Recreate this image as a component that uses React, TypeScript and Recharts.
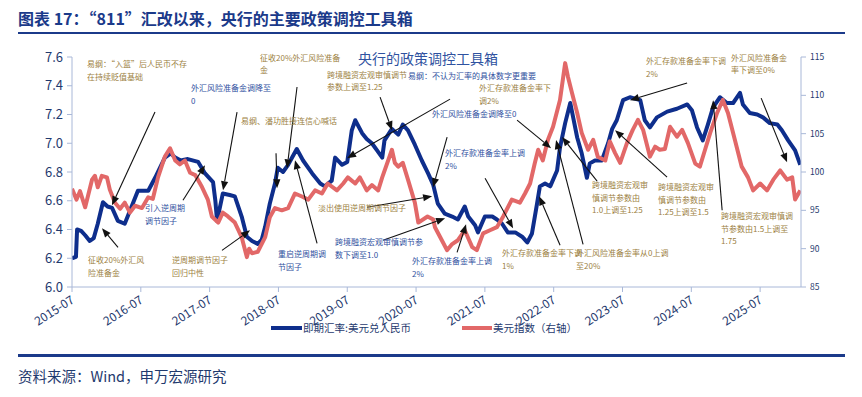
import React from "react";
import { LineChart, Line, XAxis, YAxis, ReferenceLine, ReferenceDot } from "recharts";

const FONT = "'Noto Sans CJK SC', 'Noto Sans', sans-serif";
const NAVY = "#1B3A8A";
const BLUE_LINE = "#0E2E8C";
const RED_LINE = "#E26868";
const BROWN_TXT = "#9C7F3F";
const BLUE_TXT = "#3050A0";
const AXIS_TXT = "#1F3A6E";
const AXIS_LINE = "#A9B8D8";

const tickLabels = ["2015-07", "2016-07", "2017-07", "2018-07", "2019-07", "2020-07", "2021-07", "2022-07", "2023-07", "2024-07", "2025-07"];
const leftTicks = [6.0, 6.2, 6.4, 6.6, 6.8, 7.0, 7.2, 7.4, 7.6];
const rightTicks = [85, 90, 95, 100, 105, 110, 115];

const cnyDates = [
  "2015-07-01", "2015-07-22", "2015-07-28", "2015-08-19", "2015-09-10", "2015-10-04", "2015-10-25", "2015-11-16", "2015-12-13",
  "2016-01-07", "2016-02-01", "2016-03-01", "2016-04-07", "2016-05-10", "2016-06-16", "2016-08-10", "2016-09-16", "2016-11-07", "2016-12-07",
  "2017-01-01", "2017-02-01", "2017-03-07", "2017-05-01", "2017-06-07", "2017-07-19", "2017-08-01", "2017-08-10", "2017-09-10", "2017-10-16", "2017-11-13", "2017-12-19",
  "2018-01-16", "2018-02-13", "2018-03-13", "2018-04-04", "2018-04-22", "2018-05-16", "2018-06-13", "2018-06-28", "2018-07-25", "2018-08-22", "2018-10-07", "2018-11-10", "2018-12-28",
  "2019-02-10", "2019-03-04", "2019-04-10", "2019-04-28", "2019-06-04", "2019-07-01", "2019-07-25", "2019-08-13", "2019-09-19", "2019-10-13", "2019-11-10", "2019-12-07",
  "2020-01-04", "2020-01-16", "2020-02-25", "2020-03-28", "2020-04-22", "2020-05-19", "2020-06-25", "2020-08-01", "2020-09-04", "2020-10-01", "2020-10-25", "2020-12-01",
  "2021-01-10", "2021-02-10", "2021-03-16", "2021-04-04", "2021-05-10", "2021-05-25", "2021-07-01", "2021-08-10", "2021-09-04", "2021-10-01", "2021-11-01", "2021-12-10",
  "2022-01-16", "2022-02-13", "2022-03-07", "2022-04-04", "2022-04-19", "2022-05-16", "2022-06-13", "2022-07-19", "2022-08-04", "2022-09-01", "2022-09-28", "2022-10-13", "2022-11-04", "2022-11-28", "2022-12-25",
  "2023-01-10", "2023-02-07", "2023-03-13", "2023-04-16", "2023-05-07", "2023-06-01", "2023-07-04", "2023-08-10", "2023-10-04", "2023-10-28", "2023-11-25",
  "2024-01-01", "2024-02-25", "2024-04-16", "2024-06-10", "2024-07-04", "2024-08-01", "2024-09-01", "2024-09-28", "2024-10-25", "2024-12-01",
  "2025-01-07", "2025-02-10", "2025-03-16", "2025-04-01", "2025-05-07", "2025-06-16", "2025-07-16", "2025-08-22", "2025-10-01", "2025-10-25", "2025-11-28",
  "2026-01-04", "2026-02-01",
];
const cnyRates = [
  6.20, 6.21, 6.40, 6.39, 6.36, 6.32, 6.34, 6.44, 6.59,
  6.56, 6.55, 6.46, 6.44, 6.55, 6.67, 6.67, 6.76, 6.90, 6.93,
  6.90, 6.88, 6.89, 6.87, 6.79, 6.73, 6.60, 6.46, 6.65, 6.64, 6.63, 6.49,
  6.35, 6.32, 6.30, 6.33, 6.42, 6.58, 6.72, 6.83, 6.80, 6.85, 6.96, 6.88, 6.79,
  6.72, 6.70, 6.74, 6.90, 6.85, 6.87, 7.09, 7.16, 7.07, 7.03, 7.00, 6.95,
  6.90, 7.02, 7.10, 7.06, 7.13, 7.09, 6.99, 6.88, 6.79, 6.71, 6.58, 6.51,
  6.49, 6.47, 6.56, 6.49, 6.43, 6.38, 6.49, 6.49, 6.47, 6.44, 6.38, 6.38,
  6.35, 6.31, 6.37, 6.58, 6.70, 6.72, 6.70, 6.81, 6.97, 7.14, 7.28, 7.18, 7.04, 6.93, 6.76,
  6.86, 6.88, 6.88, 7.00, 7.10, 7.16, 7.30, 7.32, 7.30, 7.16, 7.11,
  7.18, 7.22, 7.24, 7.27, 7.23, 7.11, 7.02, 7.13, 7.25, 7.32,
  7.28, 7.28, 7.35, 7.27, 7.21, 7.20, 7.18, 7.14, 7.13, 7.09, 7.02,
  6.95, 6.85,
];

const dxyDates = [
  "2015-07-01", "2015-07-25", "2015-08-13", "2015-09-10", "2015-10-16", "2015-11-01", "2015-11-16", "2015-12-07",
  "2016-01-04", "2016-01-19", "2016-02-16", "2016-03-13", "2016-04-07", "2016-05-04", "2016-06-01", "2016-07-07", "2016-08-10", "2016-09-04", "2016-10-01", "2016-11-07", "2016-12-04",
  "2017-01-01", "2017-01-25", "2017-02-22", "2017-03-19", "2017-04-16", "2017-05-22", "2017-06-22", "2017-07-13", "2017-08-16", "2017-09-10", "2017-10-07", "2017-11-13", "2017-12-19",
  "2018-01-16", "2018-01-28", "2018-02-13", "2018-03-13", "2018-04-22", "2018-05-16", "2018-06-13", "2018-07-19", "2018-08-22", "2018-09-28", "2018-11-04", "2018-12-07",
  "2019-01-13", "2019-02-19", "2019-03-19", "2019-05-07", "2019-06-10", "2019-07-04", "2019-08-13", "2019-09-07", "2019-10-13", "2019-11-10", "2019-12-13",
  "2020-01-04", "2020-02-25", "2020-03-10", "2020-03-28", "2020-04-22", "2020-05-19", "2020-06-25", "2020-07-13", "2020-09-01", "2020-10-01", "2020-10-10", "2020-11-16", "2020-12-13",
  "2021-01-10", "2021-02-10", "2021-03-16", "2021-04-25", "2021-05-19", "2021-06-22", "2021-07-28", "2021-09-04", "2021-10-07", "2021-11-22",
  "2022-01-04", "2022-02-01", "2022-02-28", "2022-03-22", "2022-04-10", "2022-05-04", "2022-06-01", "2022-06-28", "2022-08-04", "2022-09-01", "2022-09-16", "2022-10-07", "2022-11-04", "2022-11-28",
  "2023-01-01", "2023-01-28", "2023-02-22", "2023-04-01", "2023-04-25", "2023-05-22", "2023-06-19", "2023-07-25", "2023-08-25", "2023-09-22", "2023-10-19", "2023-11-25", "2023-12-22",
  "2024-01-16", "2024-02-13", "2024-03-10", "2024-04-16", "2024-05-13", "2024-06-13", "2024-07-22", "2024-08-16", "2024-09-13", "2024-10-10", "2024-11-16", "2024-12-16",
  "2025-01-13", "2025-02-19", "2025-03-25", "2025-04-28", "2025-05-25", "2025-07-01", "2025-08-07", "2025-09-10", "2025-10-16", "2025-11-22", "2025-12-19",
  "2026-01-04", "2026-02-01",
];
const dxyValues = [
  97.8, 96.4, 97.5, 95.4, 99.0, 99.5, 98.0, 99.5,
  99.3, 97.7, 96.0, 95.2, 96.0, 94.7, 95.6, 95.3, 96.7, 96.5, 99.3, 102.0, 103.1,
  101.5, 101.0, 101.5, 99.9, 99.6, 98.0, 96.4, 94.2, 93.4, 94.7, 94.2, 93.4, 91.5,
  88.9, 90.0, 89.4, 89.6, 91.5, 94.1, 95.3, 95.0, 95.3, 97.2, 96.8, 96.4,
  97.6, 97.2, 98.5, 97.6, 98.5, 99.3, 98.5, 99.3, 97.6, 98.3, 97.6,
  99.3, 102.9, 101.2, 100.7, 101.2, 99.0, 96.0, 93.4, 94.2, 93.8, 92.8, 91.1, 89.8,
  90.6, 91.1, 92.4, 90.2, 89.8, 92.0, 92.4, 92.8, 94.2, 96.4,
  96.0, 97.2, 98.5, 101.1, 102.9, 101.5, 104.2, 105.9, 109.4, 114.2, 112.4, 110.3, 107.7, 105.1,
  102.9, 104.2, 102.0, 101.5, 104.0, 102.5, 101.2, 103.8, 105.5, 106.8, 105.5, 102.0, 103.3,
  102.9, 103.0, 105.9, 104.6, 105.5, 103.8, 101.1, 100.7, 102.9, 105.1, 107.7, 109.4,
  107.7, 104.2, 100.7, 99.3, 97.6, 98.5, 97.6, 99.0, 100.2, 99.0, 99.3,
  96.4, 97.6,
];

// annotation texts, anchored in chart data space (decimal year, left-axis value)
const notes = [
  { lines: ["易纲：“入篮”后人民币不存", "在持续贬值基础"], t: 2015.718, v: 7.558, tone: "brown" },
  { lines: ["外汇风险准备金调降至", "0"], t: 2017.23, v: 7.391, tone: "blue" },
  { lines: ["易纲、潘功胜接连信心喊话"], t: 2017.956, v: 7.161, tone: "brown" },
  { lines: ["征收20%外汇风险准备", "金"], t: 2018.233, v: 7.603, tone: "brown" },
  { lines: ["征收20%外汇风", "险准备金"], t: 2015.733, v: 6.192, tone: "brown" },
  { lines: ["引入逆周期", "调节因子"], t: 2016.561, v: 6.555, tone: "blue" },
  { lines: ["逆周期调节因子", "回归中性"], t: 2016.953, v: 6.192, tone: "brown" },
  { lines: ["重启逆周期调", "节因子"], t: 2018.494, v: 6.234, tone: "blue" },
  { lines: ["跨境融资宏观审慎调节", "参数上调至1.25"], t: 2019.206, v: 7.482, tone: "brown" },
  { lines: ["易纲：不认为汇率的具体数字更重要"], t: 2020.384, v: 7.475, tone: "blue" },
  { lines: ["外汇存款准备金率下", "调2%"], t: 2021.416, v: 7.391, tone: "brown" },
  { lines: ["外汇风险准备金调降至0"], t: 2020.733, v: 7.21, tone: "blue" },
  { lines: ["外汇存款准备金率上调", "2%"], t: 2020.922, v: 6.938, tone: "blue" },
  { lines: ["淡出使用逆周期调节因子"], t: 2019.076, v: 6.555, tone: "brown" },
  { lines: ["跨境融资宏观审慎调节参", "数下调至1.0"], t: 2019.323, v: 6.318, tone: "blue" },
  { lines: ["外汇存款准备金率上调", "2%"], t: 2020.442, v: 6.185, tone: "blue" },
  { lines: ["外汇存款准备金率下调", "1%"], t: 2021.75, v: 6.241, tone: "brown" },
  { lines: ["外汇风险准备金率从0上调", "至20%"], t: 2022.826, v: 6.241, tone: "brown" },
  { lines: ["外汇存款准备金率下调", "2%"], t: 2023.843, v: 7.579, tone: "brown" },
  { lines: ["外汇风险准备金", "率下调至0%"], t: 2025.078, v: 7.603, tone: "brown" },
  { lines: ["跨境融资宏观审", "慎调节参数由", "1.0上调至1.25"], t: 2023.058, v: 6.715, tone: "brown" },
  { lines: ["跨境融资宏观审", "慎调节参数由", "1.25上调至1.5"], t: 2024.017, v: 6.701, tone: "brown" },
  { lines: ["跨境融资宏观审慎调", "节参数由1.5上调至", "1.75"], t: 2024.933, v: 6.499, tone: "brown" },
];

const innerTitle = { text: "央行的政策调控工具箱", t: 2019.657, v: 7.596 };

// arrows: [fromYear, fromValue, toYear, toValue] on the left axis
const arrows = [
  [2016.706, 7.217, 2016.081, 6.569],
  [2016.169, 6.276, 2015.936, 6.408],
  [2017.113, 6.603, 2017.433, 6.847],
  [2017.898, 7.217, 2017.695, 6.673],
  [2017.68, 6.255, 2018.087, 6.394],
  [2018.77, 7.391, 2018.625, 6.826],
  [2018.465, 6.931, 2018.48, 6.687],
  [2019.061, 6.304, 2018.741, 6.882],
  [2019.977, 7.321, 2020.151, 7.091],
  [2020.994, 7.307, 2019.497, 6.896],
  [2019.788, 6.555, 2020.733, 6.631],
  [2020.02, 6.325, 2020.922, 6.478],
  [2021.096, 6.241, 2021.227, 6.436],
  [2020.951, 7.043, 2020.747, 6.694],
  [2021.503, 6.757, 2021.91, 6.408],
  [2021.968, 7.161, 2022.462, 6.966],
  [2023.131, 6.736, 2022.622, 7.043],
  [2022.593, 6.29, 2022.288, 6.631],
  [2022.927, 6.297, 2022.535, 7.022],
  [2024.439, 7.419, 2023.61, 7.3],
  [2024.148, 6.764, 2023.392, 7.091],
  [2024.948, 6.534, 2024.817, 7.3],
  [2025.515, 7.314, 2025.892, 6.868],
];

const toYear = (s: string) => {
  const [y, m, d] = s.split("-").map(Number);
  return y + (m - 1) / 12 + ((d || 1) - 1) / 365;
};

const cnyData = cnyDates.map((d, i) => ({ t: toYear(d), v: cnyRates[i] }));
const dxyData = dxyDates.map((d, i) => ({ t: toYear(d), v: dxyValues[i] }));
const xTicks = tickLabels.map((l) => toYear(l + "-01"));
const X_END = 2026.094;

const labelFor = (t: number) => {
  const i = xTicks.findIndex((x) => Math.abs(x - t) < 1e-6);
  return i >= 0 ? tickLabels[i] : "";
};

const XTick = (props: any) => {
  const { x, y, payload } = props;
  const ax = x + 3;
  const ay = y + 9;
  return (
    <text x={ax} y={ay} transform={`rotate(-33 ${ax} ${ay})`} textAnchor="end" fontSize={12} fill={AXIS_TXT} fontFamily={FONT}>
      {labelFor(payload.value)}
    </text>
  );
};

const arrowShape = (p: any) => {
  const x1 = Number(p.x1), y1 = Number(p.y1), x2 = Number(p.x2), y2 = Number(p.y2);
  const dx = x2 - x1, dy = y2 - y1;
  const len = Math.hypot(dx, dy) || 1;
  const ux = dx / len, uy = dy / len;
  const hl = 9, hw = 3.6;
  const bx = x2 - ux * hl, by = y2 - uy * hl;
  const pts = `${x2},${y2} ${bx - uy * hw},${by + ux * hw} ${bx + uy * hw},${by - ux * hw}`;
  return (
    <g>
      <line x1={x1} y1={y1} x2={bx} y2={by} stroke="#111" strokeWidth={1.1} />
      <polygon points={pts} fill="#111" />
    </g>
  );
};

const noteShape = (lines: string[], color: string, size: number, lh: number) => (p: any) => (
  <text x={p.cx} y={p.cy} fill={color} fontSize={size} fontFamily={FONT} dominantBaseline="central">
    {lines.map((l, i) => (
      <tspan key={i} x={p.cx} dy={i === 0 ? 0 : lh}>
        {l}
      </tspan>
    ))}
  </text>
);

export default function App() {
  return (
    <div style={{ position: "absolute", left: 0, top: 0, width: 862, height: 397, background: "#fff", fontFamily: FONT }}>
      <div style={{ position: "absolute", left: 18, top: 8, fontSize: 16, fontWeight: 700, color: NAVY, lineHeight: "20px", whiteSpace: "nowrap" }}>
        图表 17：“811”汇改以来，央行的主要政策调控工具箱
      </div>
      <div style={{ position: "absolute", left: 18, top: 32, width: 827, height: 2, background: NAVY }} />

      <div style={{ position: "absolute", left: 0, top: 0 }}>
        <LineChart width={862} height={397} margin={{ top: 57, right: 0, bottom: 70, left: 0 }}>
          <XAxis
            type="number"
            dataKey="t"
            domain={[2015.5, X_END]}
            allowDataOverflow
            ticks={xTicks}
            interval={0}
            height={40}
            tick={<XTick />}
            tickSize={5}
            tickMargin={1}
            stroke={AXIS_LINE}
            axisLine={{ stroke: AXIS_LINE }}
            tickLine={{ stroke: AXIS_LINE }}
          />
          <YAxis
            yAxisId="left"
            orientation="left"
            domain={[6.0, 7.6]}
            ticks={leftTicks}
            allowDataOverflow
            width={72}
            tickSize={5}
            tickMargin={4}
            tickFormatter={(v: number) => v.toFixed(1)}
            tick={{ fontSize: 13, fill: AXIS_TXT, fontFamily: FONT }}
            axisLine={{ stroke: AXIS_LINE }}
            tickLine={{ stroke: AXIS_LINE }}
          />
          <YAxis
            yAxisId="right"
            orientation="right"
            domain={[85, 115]}
            ticks={rightTicks}
            allowDataOverflow
            width={61}
            tickSize={5}
            tickMargin={4}
            tick={{ fontSize: 8.5, fill: AXIS_TXT, fontFamily: FONT }}
            axisLine={{ stroke: AXIS_LINE }}
            tickLine={{ stroke: AXIS_LINE }}
          />
          <Line
            yAxisId="left"
            data={cnyData}
            dataKey="v"
            stroke={BLUE_LINE}
            strokeWidth={4}
            dot={false}
            activeDot={false}
            isAnimationActive={false}
            strokeLinejoin="round"
          />
          <Line
            yAxisId="right"
            data={dxyData}
            dataKey="v"
            stroke={RED_LINE}
            strokeWidth={4}
            dot={false}
            activeDot={false}
            isAnimationActive={false}
            strokeLinejoin="round"
          />
          {arrows.map((a, i) => (
            <ReferenceLine
              key={"a" + i}
              yAxisId="left"
              segment={[
                { x: a[0], y: a[1] },
                { x: a[2], y: a[3] },
              ]}
              ifOverflow="visible"
              shape={arrowShape}
            />
          ))}
          {notes.map((n, i) => (
            <ReferenceDot
              key={"n" + i}
              yAxisId="left"
              x={n.t}
              y={n.v}
              ifOverflow="visible"
              shape={noteShape(n.lines, n.tone === "blue" ? BLUE_TXT : BROWN_TXT, 8, 12.5)}
            />
          ))}
          <ReferenceDot
            yAxisId="left"
            x={innerTitle.t}
            y={innerTitle.v}
            ifOverflow="visible"
            shape={noteShape([innerTitle.text], "#2F52A0", 14, 16)}
          />
        </LineChart>
      </div>

      <div style={{ position: "absolute", left: 271, top: 326, width: 31, height: 4, background: BLUE_LINE }} />
      <div style={{ position: "absolute", left: 303, top: 320, fontSize: 10.5, lineHeight: "16px", color: AXIS_TXT, whiteSpace: "nowrap" }}>
        即期汇率:美元兑人民币
      </div>
      <div style={{ position: "absolute", left: 462, top: 326, width: 30, height: 4, background: RED_LINE }} />
      <div style={{ position: "absolute", left: 493, top: 320, fontSize: 10.5, lineHeight: "16px", color: AXIS_TXT, whiteSpace: "nowrap" }}>
        美元指数（右轴）
      </div>

      <div style={{ position: "absolute", left: 18, top: 354, width: 827, height: 3, background: NAVY }} />
      <div style={{ position: "absolute", left: 18, top: 366, fontSize: 14.5, lineHeight: "20px", color: AXIS_TXT, whiteSpace: "nowrap" }}>
        资料来源：Wind，申万宏源研究
      </div>
    </div>
  );
}
